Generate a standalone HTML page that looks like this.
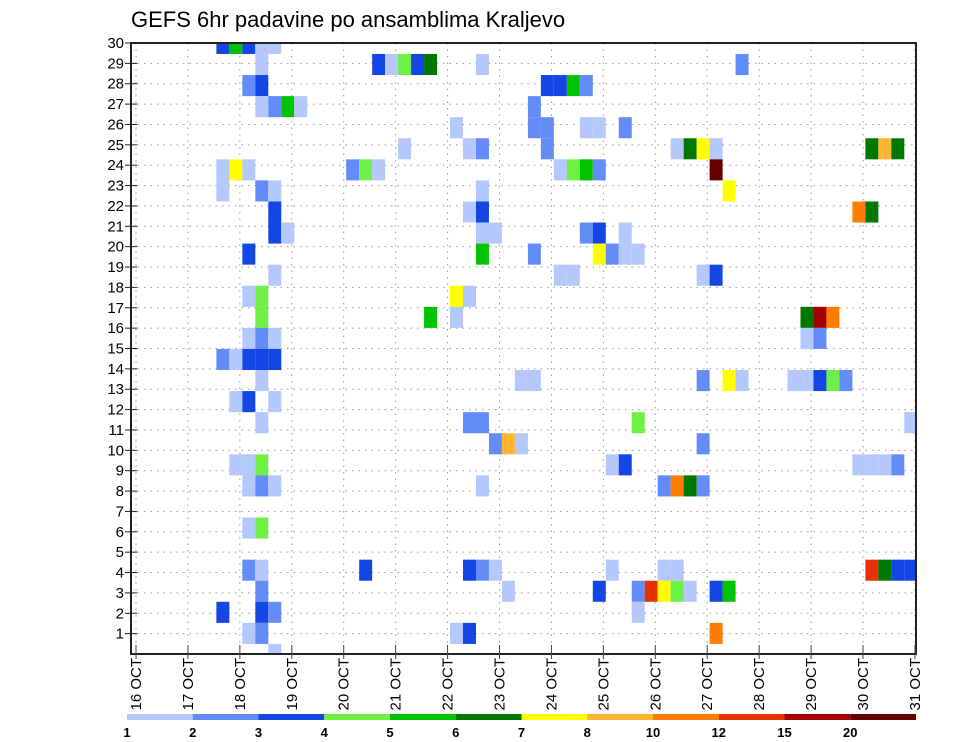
<!DOCTYPE html>
<html><head><meta charset="utf-8"><title>GEFS 6hr padavine po ansamblima Kraljevo</title>
<style>
html,body{margin:0;padding:0;background:#fff;}
svg{display:block;font-family:"Liberation Sans",sans-serif;}
</style></head>
<body>
<svg id="chart" width="960" height="742" viewBox="0 0 960 742" xmlns="http://www.w3.org/2000/svg">
  <rect x="0" y="0" width="960" height="742" fill="#fff"/>
  <text x="131" y="27" font-size="22" fill="#000">GEFS 6hr padavine po ansamblima Kraljevo</text>
  <defs><clipPath id="plotclip"><rect x="131" y="43" width="785" height="611"/></clipPath></defs>
  <g id="grid"></g>
  <g id="cellsG" clip-path="url(#plotclip)"></g>
  <rect x="131" y="43" width="785" height="611" fill="none" stroke="#222" stroke-width="2"/>
  <g id="axes"></g>
  <g id="legend"></g>
</svg>
<script>
// ---- data ----
const dayLabels = ["16 OCT","17 OCT","18 OCT","19 OCT","20 OCT","21 OCT","22 OCT","23 OCT","24 OCT","25 OCT","26 OCT","27 OCT","28 OCT","29 OCT","30 OCT","31 OCT"];
const memberTicks = [1,2,3,4,5,6,7,8,9,10,11,12,13,14,15,16,17,18,19,20,21,22,23,24,25,26,27,28,29,30];
const levelBounds = [1,2,3,4,5,6,7,8,10,12,15,20];
const levelLabels = ["1","2","3","4","5","6","7","8","10","12","15","20"];
const levelColors = ["#b4c8fc","#648cf8","#1446e6","#6ef046","#00c400","#007800","#ffff00","#ffb432","#ff7d00","#e63200","#a50000","#640000"];
// cells: [row from top (0..29), 6-hour step since 16 OCT 00Z, precipitation mm]
const cells = [
[0,6,3.5],[0,7,5.5],[0,8,3.5],[0,9,1.5],[0,10,1.5],
[1,9,1.5],[1,18,3.5],[1,19,1.5],[1,20,4.5],[1,21,3.5],[1,22,6.5],[1,26,1.5],[1,46,2.5],
[2,8,2.5],[2,9,3.5],[2,31,3.5],[2,32,3.5],[2,33,5.5],[2,34,2.5],
[3,9,1.5],[3,10,2.5],[3,11,5.5],[3,12,1.5],[3,30,2.5],
[4,24,1.5],[4,30,2.5],[4,31,2.5],[4,34,1.5],[4,35,1.5],[4,37,2.5],
[5,20,1.5],[5,25,1.5],[5,26,2.5],[5,31,2.5],[5,41,1.5],[5,42,6.5],[5,43,7.5],[5,44,1.5],[5,56,6.5],[5,57,9],[5,58,6.5],
[6,6,1.5],[6,7,7.5],[6,8,1.5],[6,16,2.5],[6,17,4.5],[6,18,1.5],[6,32,1.5],[6,33,4.5],[6,34,5.5],[6,35,2.5],[6,44,22],
[7,6,1.5],[7,9,2.5],[7,10,1.5],[7,26,1.5],[7,45,7.5],
[8,10,3.5],[8,25,1.5],[8,26,3.5],[8,55,11],[8,56,6.5],
[9,10,3.5],[9,11,1.5],[9,26,1.5],[9,27,1.5],[9,34,2.5],[9,35,3.5],[9,37,1.5],
[10,8,3.5],[10,26,5.5],[10,30,2.5],[10,35,7.5],[10,36,2.5],[10,37,1.5],[10,38,1.5],
[11,10,1.5],[11,32,1.5],[11,33,1.5],[11,43,1.5],[11,44,3.5],
[12,8,1.5],[12,9,4.5],[12,24,7.5],[12,25,1.5],
[13,9,4.5],[13,22,5.5],[13,24,1.5],[13,51,6.5],[13,52,17],[13,53,11],
[14,8,1.5],[14,9,2.5],[14,10,1.5],[14,51,1.5],[14,52,2.5],
[15,6,2.5],[15,7,1.5],[15,8,3.5],[15,9,3.5],[15,10,3.5],
[16,9,1.5],[16,29,1.5],[16,30,1.5],[16,43,2.5],[16,45,7.5],[16,46,1.5],[16,50,1.5],[16,51,1.5],[16,52,3.5],[16,53,4.5],[16,54,2.5],
[17,7,1.5],[17,8,3.5],[17,10,1.5],
[18,9,1.5],[18,25,2.5],[18,26,2.5],[18,38,4.5],[18,59,1.5],
[19,27,2.5],[19,28,9],[19,29,1.5],[19,43,2.5],
[20,7,1.5],[20,8,1.5],[20,9,4.5],[20,36,1.5],[20,37,3.5],[20,55,1.5],[20,56,1.5],[20,57,1.5],[20,58,2.5],
[21,8,1.5],[21,9,2.5],[21,10,1.5],[21,26,1.5],[21,40,2.5],[21,41,11],[21,42,6.5],[21,43,2.5],
[23,8,1.5],[23,9,4.5],
[25,8,2.5],[25,9,1.5],[25,17,3.5],[25,25,3.5],[25,26,2.5],[25,27,1.5],[25,36,1.5],[25,40,1.5],[25,41,1.5],[25,56,13],[25,57,6.5],[25,58,3.5],[25,59,3.5],
[26,9,2.5],[26,28,1.5],[26,35,3.5],[26,38,2.5],[26,39,13],[26,40,7.5],[26,41,4.5],[26,42,1.5],[26,44,3.5],[26,45,5.5],
[27,6,3.5],[27,9,3.5],[27,10,2.5],[27,38,1.5],
[28,8,1.5],[28,9,2.5],[28,24,1.5],[28,25,3.5],[28,44,11],
[29,10,1.5]
];

// ---- scales ----
const NS='http://www.w3.org/2000/svg';
const PL=131, PR=916, PT=43, PB=654;
function xDay(d){ return 136 + d*51.93; }
function xStep(k){ return 138.5 + k*12.98; }
function yRowTop(r){ return 32.9 + r*21.07; }
function yMember(m){ return PB - m*(PB-PT)/30; }
function colorFor(v){
  let idx=-1;
  for(let i=0;i<levelBounds.length;i++){ if(v>=levelBounds[i]) idx=i; }
  return idx<0 ? null : levelColors[idx];
}
function mk(tag, attrs, parent){
  const e=document.createElementNS(NS,tag);
  for(const k in attrs) e.setAttribute(k,attrs[k]);
  parent.appendChild(e); return e;
}

// ---- grid ----
const grid=document.getElementById('grid');
dayLabels.forEach((lab,d)=>{
  const l=mk('line',{x1:xDay(d),x2:xDay(d),y1:PT,y2:PB,stroke:'#999','stroke-width':1,'stroke-dasharray':'1.5 5'},grid);
  
  
});
memberTicks.forEach(m=>{
  const l=mk('line',{x1:PL,x2:PR,y1:yMember(m),y2:yMember(m),stroke:'#999','stroke-width':1,'stroke-dasharray':'1.5 5'},grid);
  
  
});

// ---- cells ----
const cg=document.getElementById('cellsG');
cells.forEach(c=>{
  const col=colorFor(c[2]); if(!col) return;
  const r=mk('rect',{x:xStep(c[1]),y:yRowTop(c[0]),width:12.98,height:21.07,fill:col},cg);
  
  
});

// ---- axes ----
const ax=document.getElementById('axes');
memberTicks.forEach(m=>{
  const y=yMember(m);
  const t=mk('line',{x1:125,x2:137,y1:y,y2:y,stroke:'#222','stroke-width':1},ax);
  
  
  const tx=mk('text',{x:124,y:y+5,'font-size':15,'text-anchor':'end',fill:'#000'},ax);
  tx.textContent=String(m);
  
  
});
dayLabels.forEach((lab,d)=>{
  const x=xDay(d);
  const t=mk('line',{x1:x,x2:x,y1:PB-9,y2:PB+5,stroke:'#444','stroke-width':1},ax);
  
  
  const tx=mk('text',{x:0,y:0,'font-size':15,'text-anchor':'end',fill:'#000',transform:'translate('+(x+5)+',658) rotate(-90)'},ax);
  tx.textContent=lab;
  
  
});

// ---- legend ----
const lg=document.getElementById('legend');
const segW=(916-127)/levelColors.length;
levelColors.forEach((col,i)=>{
  const r=mk('rect',{x:127+i*segW,y:714,width:segW,height:6,fill:col},lg);
  
  
});
levelLabels.forEach((lab,i)=>{
  const t=mk('text',{x:127+i*segW,y:737,'font-size':13,'font-weight':'bold','text-anchor':'middle',fill:'#000'},lg);
  t.textContent=lab;
  
  
});
</script>
</body></html>
